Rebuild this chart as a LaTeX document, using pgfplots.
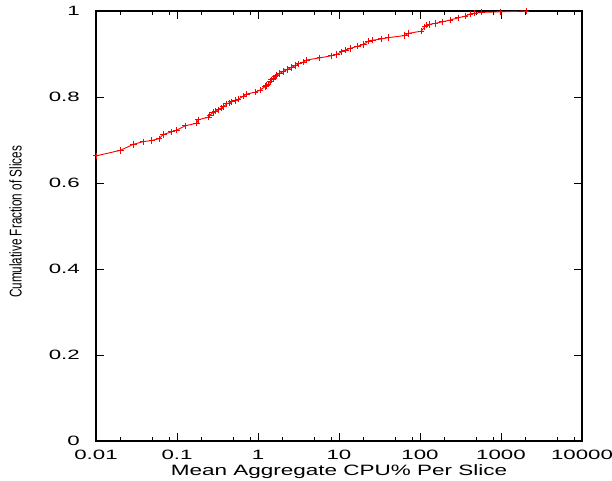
\documentclass[border=0pt]{standalone}
\usepackage{pgfplots}
\pgfplotsset{compat=1.18}
\usepackage{fontspec}
\setmainfont{Liberation Sans}
\newfontfamily\tickfont[FakeStretch=1.65]{Liberation Sans}
\newfontfamily\xlabfont[FakeStretch=1.5]{Liberation Sans}
\newfontfamily\ylabfont[FakeStretch=0.69]{Liberation Sans}

\begin{document}
\begin{tikzpicture}[x=1pt,y=1pt]
\useasboundingbox (0,0) rectangle (612,480);
\begin{axis}[
  at={(96pt,39pt)}, anchor=south west,
  scale only axis, width=486pt, height=430pt,
  xmode=log, log basis x=10,
  xmin=0.01, xmax=10000, ymin=0, ymax=1,
  xtick={0.01,0.1,1,10,100,1000,10000},
  xticklabels={0.01,0.1,1,10,100,1000,10000\hspace{8pt}},
  minor xtick={0.02,0.05,0.08,0.2,0.5,0.8,2,5,8,20,50,80,200,500,800,2000,5000,8000},
  ytick={0,0.2,0.4,0.6,0.8,1},
  yticklabels={0,0.2,0.4,0.6,0.8,1},
  tick align=inside,
  major tick length=8pt, minor tick length=4pt,
  axis line style={black, line width=1.2pt},
  every tick/.style={black, line width=0.8pt},
  ticklabel style={inner sep=0pt, font=\tickfont\fontsize{13.5}{16}\selectfont},
  xticklabel style={anchor=north}, xticklabel shift=9pt,
  yticklabel style={anchor=east}, yticklabel shift=16pt,
  xlabel={\xlabfont\fontsize{15}{17}\selectfont Mean Aggregate CPU\% Per Slice},
  ylabel={\ylabfont\fontsize{17}{19}\selectfont Cumulative Fraction of Slices},
  xlabel style={inner sep=0pt, anchor=north, at={(axis description cs:0.5,0)}, yshift=-23pt},
  ylabel style={inner sep=0pt, anchor=center, at={(axis description cs:0,0.5)}, yshift=80.5pt, xshift=4pt},
  clip=false,
]
\addplot[red, line width=0.9pt, mark=+, mark size=3.2pt, mark options={red, line width=0.9pt}]
coordinates {
(0.01,0.663) (0.020,0.676) (0.029,0.690) (0.038,0.696) (0.049,0.699)
(0.060,0.703) (0.068,0.713) (0.086,0.719) (0.099,0.723) (0.126,0.733)
(0.175,0.739) (0.183,0.747) (0.244,0.753) (0.255,0.758) (0.28,0.764)
(0.30,0.767) (0.324,0.770) (0.35,0.774) (0.373,0.777) (0.41,0.784)
(0.44,0.786) (0.473,0.789) (0.52,0.792) (0.571,0.795) (0.659,0.802)
(0.725,0.807) (0.918,0.811) (1.06,0.816) (1.22,0.824) (1.28,0.827)
(1.34,0.830) (1.41,0.836) (1.47,0.840) (1.55,0.843) (1.62,0.847)
(1.70,0.851) (1.85,0.855) (2.05,0.859) (2.3,0.864) (2.6,0.869)
(2.9,0.873) (3.2,0.877) (3.6,0.881) (3.98,0.886) (5.8,0.891)
(8.1,0.896) (9.35,0.899) (10.8,0.905) (12,0.909) (13.7,0.913)
(17,0.918) (20,0.922) (23,0.930) (26,0.932) (33.6,0.935)
(40.6,0.938) (65,0.943) (72,0.948) (103,0.953) (115,0.963)
(121,0.967) (130,0.969) (153,0.971) (190,0.975) (235,0.979)
(297,0.984) (360,0.988) (414,0.993) (470,0.995) (578,0.997)
(980,0.998) (2040,1.0)
};
\end{axis}
\end{tikzpicture}
\end{document}
